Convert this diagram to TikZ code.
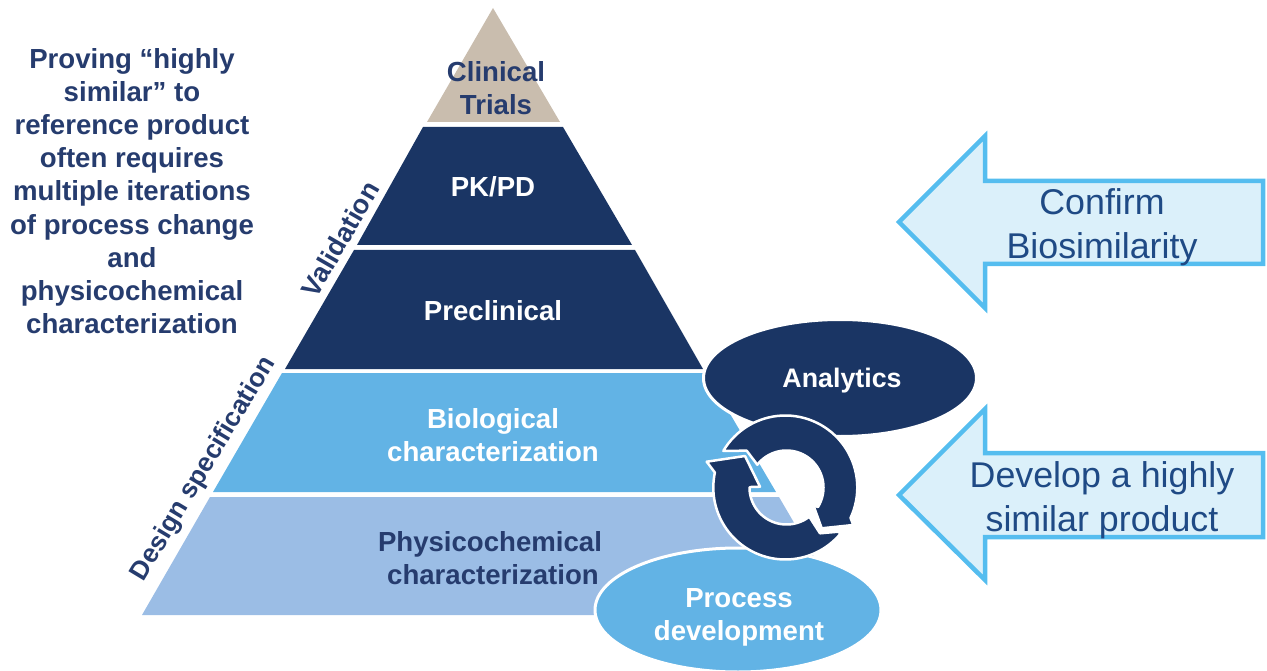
\documentclass[tikz,border=0pt]{standalone}
\usepackage{fontspec}
\setmainfont{Liberation Sans}
\usetikzlibrary{shapes.geometric}
\definecolor{navy}{HTML}{1A3564}
\definecolor{midblue}{HTML}{62B3E5}
\definecolor{lightblue}{HTML}{9BBDE5}
\definecolor{tan}{HTML}{C9BDAE}
\definecolor{inkblue}{HTML}{263C6E}
\definecolor{arrowline}{HTML}{55BDEF}
\definecolor{arrowfill}{HTML}{DBF0FA}
\definecolor{arrowtext}{HTML}{1F4A85}
\tikzset{
  x=1pt,y=-1pt,
  boldtext/.style={font=\bfseries\fontsize{27.6}{33.2}\selectfont,align=center,inner sep=0pt},
  whitelabel/.style={boldtext,text=white},
  darklabel/.style={boldtext,text=inkblue},
  bluearrow/.style={draw=arrowline,fill=arrowfill,line width=4.5pt,miter limit=10},
  arrowlabel/.style={font=\fontsize{35.8}{44}\selectfont,text=arrowtext,align=center,inner sep=0pt},
  blob/.style={ellipse,draw=white,line width=3pt,inner sep=0pt},
  ringpart/.style={fill=navy,draw=white,line width=2.5pt,line join=round}
}
\begin{document}
\begin{tikzpicture}
\useasboundingbox (0,0) rectangle (1267,671);
% pyramid
\fill[tan] (493,8) -- (560,122) -- (427,122) -- cycle;
\fill[navy] (423,127) -- (563,127) -- (632,245) -- (357,245) -- cycle;
\fill[navy] (354,250) -- (635,250) -- (703,369) -- (285,369) -- cycle;
\fill[midblue] (282,373) -- (706,373) -- (776,492) -- (213,492) -- cycle;
\fill[lightblue] (210,497) -- (779,497) -- (848,615) -- (142,615) -- cycle;
% pyramid labels
\node[darklabel] (clinical) at (496,88) {Clinical\\Trials};
\node[whitelabel] (pkpd) at (493,187) {PK/PD};
\node[whitelabel] (preclin) at (493,311) {Preclinical};
\node[whitelabel] (bio) at (493,435) {Biological\\characterization};
\node[darklabel] (physico) at (490,558) {Physicochemical\\\hspace*{6pt}characterization};
% side labels
\node[darklabel,rotate=60,font=\bfseries\fontsize{27}{33}\selectfont] (valid) at (340,239) {Validation};
\node[darklabel,rotate=59,font=\bfseries\fontsize{26.3}{33}\selectfont] (design) at (204,469) {Design specification};
\node[darklabel] (proving) at (132,191) {Proving “highly\\similar” to\\reference product\\often requires\\multiple iterations\\of process change\\and\\physicochemical\\characterization};
% ellipses
\node[blob,fill=navy,minimum width=273pt,minimum height=117pt] (analytics) at (840,378) {};
\node[whitelabel,font=\bfseries\fontsize{26.8}{33}\selectfont] (analyticstext) at (842,381) {Analytics};
\node[blob,fill=midblue,minimum width=286pt,minimum height=124pt] (process) at (738,610) {};
\node[whitelabel] (processtext) at (739,617) {Process\\development};
% cycle ring
\draw[ringpart]
  plot[domain=210.6:385,samples=50] ({785.3+72*cos(\x)},{487.5+72*sin(\x)})
  -- (853.3,525) -- (821.7,528.3) -- (813.3,505)
  -- plot[domain=392:218,samples=50] ({786.5+37*cos(\x)},{487.5+37*sin(\x)})
  -- (746.7,450.7) -- cycle;
\draw[ringpart] (706.7,461.7) -- (745,456) -- (760,486.7) -- (751,487)
  -- plot[domain=180:52,samples=40] ({786.5+37*cos(\x)},{487.5+37*sin(\x)})
  -- (820,533.3) -- (838.3,531.7)
  -- plot[domain=40:192,samples=50] ({785.3+72*cos(\x)},{487.5+72*sin(\x)}) -- cycle;
% right arrows
\draw[bluearrow] (899,222) -- (985,136) -- (985,181) -- (1263,181) -- (1263,264) -- (985,264) -- (985,308) -- cycle;
\node[arrowlabel] (confirm) at (1102,227) {Confirm\\Biosimilarity};
\draw[bluearrow] (899,495) -- (985,409) -- (985,453) -- (1263,453) -- (1263,537) -- (985,537) -- (985,580) -- cycle;
\node[arrowlabel] (develop) at (1102,500) {Develop a highly\\similar product};
\end{tikzpicture}
\end{document}
